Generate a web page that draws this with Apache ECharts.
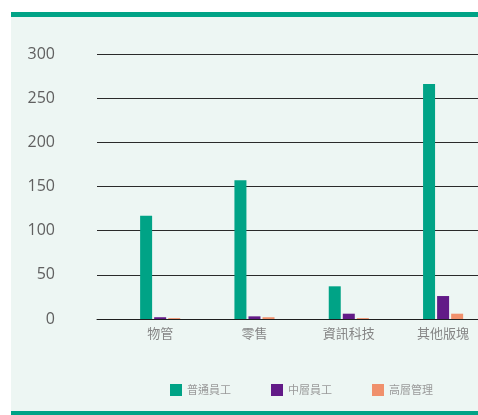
<!DOCTYPE html>
<html>
<head>
<meta charset="utf-8">
<style>
  html, body { margin: 0; padding: 0; background: #ffffff; }
  #chart { width: 478px; height: 415px; }
</style>
<script src="https://cdn.jsdelivr.net/npm/echarts@6/dist/echarts.min.js"></script>
</head>
<body>
<div id="chart"></div>
<script>
// Staff headcount by business segment and staff level
const categories = ['物管', '零售', '資訊科技', '其他版塊'];
const seriesNames = ['普通員工', '中層員工', '高層管理'];
const generalStaff = [117, 157, 37, 266];
const middleStaff = [2, 3, 6, 26];
const seniorStaff = [1, 2, 1, 6];
const yTicks = [0, 50, 100, 150, 200, 250, 300];

const colors = ['#00a386', '#621a87', '#f0906c'];
const cjkFont = '"Noto Sans CJK TC", "Noto Sans", sans-serif';

// Segments are placed at integer positions on a numeric x axis
const positions = categories.map((_, i) => i);
const toPairs = arr => arr.map((v, i) => [positions[i], v]);

const chart = echarts.init(document.getElementById('chart'), null, { renderer: 'canvas' });

chart.setOption({
  animation: false,
  backgroundColor: '#ffffff',
  graphic: [
    { type: 'rect', shape: { x: 11, y: 12, width: 467, height: 403 }, style: { fill: '#edf6f3' }, z: -10 },
    { type: 'rect', shape: { x: 11, y: 12, width: 467, height: 5 }, style: { fill: '#00a386' }, z: -9 },
    { type: 'rect', shape: { x: 11, y: 411, width: 467, height: 4 }, style: { fill: '#00a386' }, z: -9 }
  ],
  legend: {
    data: seriesNames,
    left: 170,
    top: 384,
    padding: 0,
    itemWidth: 12,
    itemHeight: 12,
    itemGap: 40,
    icon: 'rect',
    textStyle: { color: '#9a9a9a', fontSize: 11, fontFamily: cjkFont }
  },
  grid: [
    // value axis and gridlines
    { left: 97, right: 0, top: 54, bottom: 96 },
    // bars
    { left: 113, right: 0, top: 54, bottom: 96 }
  ],
  xAxis: [
    {
      gridIndex: 0, type: 'category', data: categories,
      axisLine: { show: true, lineStyle: { color: '#1e1e1e', width: 1 } },
      axisTick: { show: false }, axisLabel: { show: false }
    },
    {
      gridIndex: 1, type: 'value', min: -0.5, max: 3.37,
      axisLine: { show: false }, axisTick: { show: false },
      splitLine: { show: false },
      axisLabel: {
        customValues: positions,
        formatter: v => categories[Math.round(v)] || '',
        color: '#858585', fontSize: 13, fontFamily: cjkFont, margin: 8
      }
    }
  ],
  yAxis: [
    {
      gridIndex: 0, type: 'value', min: yTicks[0], max: yTicks[yTicks.length - 1], interval: 50,
      axisLine: { show: false }, axisTick: { show: false },
      axisLabel: { color: '#606060', fontSize: 16, fontFamily: '"Open Sans", "Noto Sans", sans-serif', margin: 42 },
      splitLine: { show: true, lineStyle: { color: '#2a2a2a', width: 1 } }
    },
    {
      gridIndex: 1, type: 'value', min: yTicks[0], max: yTicks[yTicks.length - 1], interval: 50,
      axisLine: { show: false }, axisTick: { show: false },
      axisLabel: { show: false }, splitLine: { show: false }
    }
  ],
  series: [
    { name: seriesNames[0], type: 'bar', xAxisIndex: 1, yAxisIndex: 1, data: toPairs(generalStaff), barWidth: 12, barGap: '17%', itemStyle: { color: colors[0] } },
    { name: seriesNames[1], type: 'bar', xAxisIndex: 1, yAxisIndex: 1, data: toPairs(middleStaff), barWidth: 12, barGap: '17%', itemStyle: { color: colors[1] } },
    { name: seriesNames[2], type: 'bar', xAxisIndex: 1, yAxisIndex: 1, data: toPairs(seniorStaff), barWidth: 12, barGap: '17%', itemStyle: { color: colors[2] } }
  ]
});
</script>
</body>
</html>
